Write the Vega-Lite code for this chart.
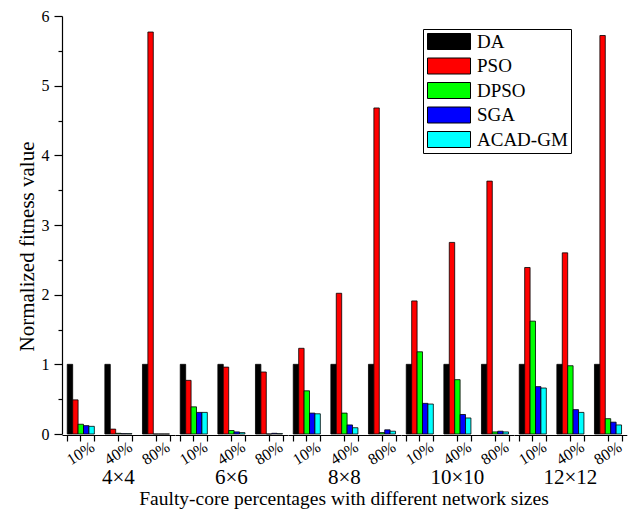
{
  "$schema": "https://vega.github.io/schema/vega-lite/v6.json",
  "padding": {"left": 16, "top": 8, "right": 2, "bottom": 2},
  "data": {"values": [
    {"size": "4×4", "pct": "10%", "algo": "DA", "value": 1},
    {"size": "4×4", "pct": "10%", "algo": "PSO", "value": 0.49},
    {"size": "4×4", "pct": "10%", "algo": "DPSO", "value": 0.14},
    {"size": "4×4", "pct": "10%", "algo": "SGA", "value": 0.12},
    {"size": "4×4", "pct": "10%", "algo": "ACAD-GM", "value": 0.11},
    {"size": "4×4", "pct": "40%", "algo": "DA", "value": 1},
    {"size": "4×4", "pct": "40%", "algo": "PSO", "value": 0.07},
    {"size": "4×4", "pct": "40%", "algo": "DPSO", "value": 0.01},
    {"size": "4×4", "pct": "40%", "algo": "SGA", "value": 0.005},
    {"size": "4×4", "pct": "40%", "algo": "ACAD-GM", "value": 0.005},
    {"size": "4×4", "pct": "80%", "algo": "DA", "value": 1},
    {"size": "4×4", "pct": "80%", "algo": "PSO", "value": 5.77},
    {"size": "4×4", "pct": "80%", "algo": "DPSO", "value": 0},
    {"size": "4×4", "pct": "80%", "algo": "SGA", "value": 0},
    {"size": "4×4", "pct": "80%", "algo": "ACAD-GM", "value": 0},
    {"size": "6×6", "pct": "10%", "algo": "DA", "value": 1},
    {"size": "6×6", "pct": "10%", "algo": "PSO", "value": 0.77},
    {"size": "6×6", "pct": "10%", "algo": "DPSO", "value": 0.39},
    {"size": "6×6", "pct": "10%", "algo": "SGA", "value": 0.31},
    {"size": "6×6", "pct": "10%", "algo": "ACAD-GM", "value": 0.31},
    {"size": "6×6", "pct": "40%", "algo": "DA", "value": 1},
    {"size": "6×6", "pct": "40%", "algo": "PSO", "value": 0.96},
    {"size": "6×6", "pct": "40%", "algo": "DPSO", "value": 0.05},
    {"size": "6×6", "pct": "40%", "algo": "SGA", "value": 0.03},
    {"size": "6×6", "pct": "40%", "algo": "ACAD-GM", "value": 0.02},
    {"size": "6×6", "pct": "80%", "algo": "DA", "value": 1},
    {"size": "6×6", "pct": "80%", "algo": "PSO", "value": 0.89},
    {"size": "6×6", "pct": "80%", "algo": "DPSO", "value": 0},
    {"size": "6×6", "pct": "80%", "algo": "SGA", "value": 0.01},
    {"size": "6×6", "pct": "80%", "algo": "ACAD-GM", "value": 0.005},
    {"size": "8×8", "pct": "10%", "algo": "DA", "value": 1},
    {"size": "8×8", "pct": "10%", "algo": "PSO", "value": 1.23},
    {"size": "8×8", "pct": "10%", "algo": "DPSO", "value": 0.62},
    {"size": "8×8", "pct": "10%", "algo": "SGA", "value": 0.30},
    {"size": "8×8", "pct": "10%", "algo": "ACAD-GM", "value": 0.29},
    {"size": "8×8", "pct": "40%", "algo": "DA", "value": 1},
    {"size": "8×8", "pct": "40%", "algo": "PSO", "value": 2.02},
    {"size": "8×8", "pct": "40%", "algo": "DPSO", "value": 0.30},
    {"size": "8×8", "pct": "40%", "algo": "SGA", "value": 0.13},
    {"size": "8×8", "pct": "40%", "algo": "ACAD-GM", "value": 0.09},
    {"size": "8×8", "pct": "80%", "algo": "DA", "value": 1},
    {"size": "8×8", "pct": "80%", "algo": "PSO", "value": 4.68},
    {"size": "8×8", "pct": "80%", "algo": "DPSO", "value": 0.02},
    {"size": "8×8", "pct": "80%", "algo": "SGA", "value": 0.06},
    {"size": "8×8", "pct": "80%", "algo": "ACAD-GM", "value": 0.04},
    {"size": "10×10", "pct": "10%", "algo": "DA", "value": 1},
    {"size": "10×10", "pct": "10%", "algo": "PSO", "value": 1.91},
    {"size": "10×10", "pct": "10%", "algo": "DPSO", "value": 1.18},
    {"size": "10×10", "pct": "10%", "algo": "SGA", "value": 0.44},
    {"size": "10×10", "pct": "10%", "algo": "ACAD-GM", "value": 0.43},
    {"size": "10×10", "pct": "40%", "algo": "DA", "value": 1},
    {"size": "10×10", "pct": "40%", "algo": "PSO", "value": 2.75},
    {"size": "10×10", "pct": "40%", "algo": "DPSO", "value": 0.78},
    {"size": "10×10", "pct": "40%", "algo": "SGA", "value": 0.28},
    {"size": "10×10", "pct": "40%", "algo": "ACAD-GM", "value": 0.23},
    {"size": "10×10", "pct": "80%", "algo": "DA", "value": 1},
    {"size": "10×10", "pct": "80%", "algo": "PSO", "value": 3.63},
    {"size": "10×10", "pct": "80%", "algo": "DPSO", "value": 0.03},
    {"size": "10×10", "pct": "80%", "algo": "SGA", "value": 0.04},
    {"size": "10×10", "pct": "80%", "algo": "ACAD-GM", "value": 0.03},
    {"size": "12×12", "pct": "10%", "algo": "DA", "value": 1},
    {"size": "12×12", "pct": "10%", "algo": "PSO", "value": 2.39},
    {"size": "12×12", "pct": "10%", "algo": "DPSO", "value": 1.62},
    {"size": "12×12", "pct": "10%", "algo": "SGA", "value": 0.68},
    {"size": "12×12", "pct": "10%", "algo": "ACAD-GM", "value": 0.66},
    {"size": "12×12", "pct": "40%", "algo": "DA", "value": 1},
    {"size": "12×12", "pct": "40%", "algo": "PSO", "value": 2.60},
    {"size": "12×12", "pct": "40%", "algo": "DPSO", "value": 0.98},
    {"size": "12×12", "pct": "40%", "algo": "SGA", "value": 0.35},
    {"size": "12×12", "pct": "40%", "algo": "ACAD-GM", "value": 0.31},
    {"size": "12×12", "pct": "80%", "algo": "DA", "value": 1},
    {"size": "12×12", "pct": "80%", "algo": "PSO", "value": 5.72},
    {"size": "12×12", "pct": "80%", "algo": "DPSO", "value": 0.22},
    {"size": "12×12", "pct": "80%", "algo": "SGA", "value": 0.17},
    {"size": "12×12", "pct": "80%", "algo": "ACAD-GM", "value": 0.13}
  ]},
  "facet": {
    "column": {
      "field": "size", "type": "ordinal",
      "sort": ["4×4", "6×6", "8×8", "10×10", "12×12"],
      "title": "Faulty-core percentages with different network sizes",
      "header": {
        "labelOrient": "bottom", "titleOrient": "bottom",
        "labelFont": "Liberation Serif", "labelFontSize": 21, "labelColor": "#000", "labelPadding": -1,
        "titleFont": "Liberation Serif", "titleFontSize": 19.5, "titleFontWeight": "normal", "titleColor": "#000", "titlePadding": -8
      }
    }
  },
  "spacing": 0,
  "spec": {
    "width": 112.8,
    "height": 418,
    "layer": [
      {
        "mark": {"type": "bar", "stroke": "#000", "strokeWidth": 0.8},
        "encoding": {
          "x": {
            "field": "pct", "type": "nominal", "sort": ["10%", "40%", "80%"],
            "scale": {"paddingInner": 0.28, "paddingOuter": 0.14},
            "title": null,
            "axis": {"labelAngle": -32, "labelAlign": "center", "labelBaseline": "middle", "labelFont": "Liberation Serif", "labelFontSize": 16, "labelColor": "#000", "tickSize": 6, "labelPadding": 12, "labelOffset": 0, "orient": "bottom"}
          },
          "xOffset": {"field": "algo", "type": "nominal", "sort": ["DA", "PSO", "DPSO", "SGA", "ACAD-GM"], "scale": {"paddingInner": 0, "paddingOuter": 0}},
          "y": {
            "field": "value", "type": "quantitative",
            "scale": {"domain": [0, 6], "nice": false},
            "title": "Normalized fitness value",
            "axis": {"values": [0, 1, 2, 3, 4, 5, 6], "tickSize": 8, "labelFont": "Liberation Serif", "labelFontSize": 16, "labelColor": "#000", "titleFont": "Liberation Serif", "titleFontSize": 21, "titleFontWeight": "normal", "titleColor": "#000", "titlePadding": 4, "titleY": 230, "labelPadding": 5, "orient": "left"}
          },
          "color": {
            "field": "algo", "type": "nominal",
            "sort": ["DA", "PSO", "DPSO", "SGA", "ACAD-GM"],
            "scale": {"domain": ["DA", "PSO", "DPSO", "SGA", "ACAD-GM"], "range": ["#000000", "#ff0000", "#00ff00", "#0000ff", "#00ffff"]},
            "legend": {
              "title": null, "orient": "none", "legendX": 361, "legendY": 13,
              "strokeColor": "#000", "padding": 3,
              "symbolType": "M-1,-1H4.375V1H-1Z", "symbolSize": 256,
              "symbolStrokeColor": "#000", "symbolStrokeWidth": 1, "symbolOpacity": 1,
              "labelFont": "Liberation Serif", "labelFontSize": 19, "labelColor": "#000",
              "rowPadding": 3.5, "labelOffset": 32
            }
          }
        }
      },
      {
        "mark": {"type": "bar", "opacity": 0},
        "encoding": {
          "x": {
            "field": "pct", "type": "nominal", "sort": ["10%", "40%", "80%"],
            "title": null,
            "axis": {"labels": false, "domain": false, "tickBand": "extent", "tickSize": 6, "orient": "bottom"}
          },
          "xOffset": {"field": "algo", "type": "nominal", "sort": ["DA", "PSO", "DPSO", "SGA", "ACAD-GM"]},
          "y": {
            "field": "value", "type": "quantitative",
            "title": null,
            "axis": {"values": [0.5, 1.5, 2.5, 3.5, 4.5, 5.5], "labels": false, "domain": false, "tickSize": 4, "orient": "left"}
          }
        }
      }
    ],
    "resolve": {"axis": {"x": "independent", "y": "independent"}}
  },
  "config": {
    "view": {"stroke": null},
    "axis": {
      "grid": false, "domainColor": "#000", "tickColor": "#000", "domainWidth": 1.2, "tickWidth": 1.2,
      "labelFont": "Liberation Serif", "labelColor": "#000",
      "titleFont": "Liberation Serif", "titleColor": "#000", "titleFontWeight": "normal"
    }
  }
}
